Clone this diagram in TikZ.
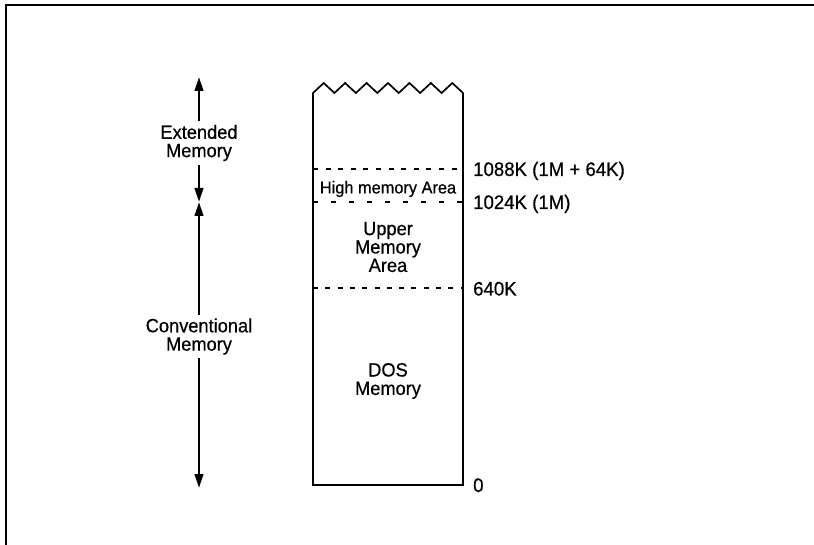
\documentclass[tikz,border=0pt]{standalone}
\usepackage{fontspec}
\setmainfont{Liberation Sans}[FakeBold=0.5,FakeStretch=0.95]
\usetikzlibrary{arrows.meta}
\begin{document}
\begin{tikzpicture}[x=1pt,y=-1pt,
  lbl/.style={align=center,inner xsep=0pt,inner ysep=3.5pt,font=\fontsize{19.2}{18.4}\selectfont},
  inlbl/.style={align=center,inner sep=0pt,font=\fontsize{19.2}{18.4}\selectfont},
  addr/.style={anchor=base west,inner sep=0pt,font=\fontsize{19.6}{18}\selectfont},
  span/.style={line width=2.6pt,-{Triangle[length=14pt,width=8.5pt]}},
  wall/.style={line width=1.7pt,line join=miter},
  sep/.style={line width=1.3pt}]
\useasboundingbox (0,0) rectangle (814,545);
% frame
\draw[line width=2pt] (6,545) -- (6,5.5) -- (814,5.5);
% memory column
\draw[wall] (313,93) \foreach \k in {0,...,6} { -- ({323.71+21.43*\k},83) -- ({334.43+21.43*\k},93) } -- (463,485) -- (313,485) -- cycle;
\draw[sep,dash pattern=on 5pt off 7.6pt] (313,169) -- (463,169);
\draw[sep,dash pattern=on 5pt off 13pt] (313,202) -- (463,202);
\draw[sep,dash pattern=on 5pt off 7.3pt] (313,288) -- (463,288);
% texts inside column
\node[inner sep=0pt,font=\fontsize{17.2}{17}\selectfont] (hma) at (388,189) {High memory Area};
\node[inlbl] (uma) at (388,247) {Upper\\Memory\\Area};
\node[inlbl] (dos) at (388,381) {DOS\\Memory};
% addresses
\node[addr] (a1088) at (473,176) {1088K (1M + 64K)};
\node[addr] (a1024) at (473,209) {1024K (1M)};
\node[addr] (a640) at (473,295.5) {640K};
\node[addr] (a0) at (473,492) {0};
% left spans
\node[lbl] (ext) at (199,143) {Extended\\Memory};
\node[lbl] (conv) at (199,336.5) {Conventional\\Memory};
\coordinate (xtop) at (199,77);
\coordinate (b1m) at (199,202);
\coordinate (zero) at (199,488);
\draw[span] (ext.north) -- (xtop);
\draw[span] (ext.south) -- (b1m);
\draw[span] (conv.north) -- (b1m);
\draw[span] (conv.south) -- (zero);
\end{tikzpicture}
\end{document}
